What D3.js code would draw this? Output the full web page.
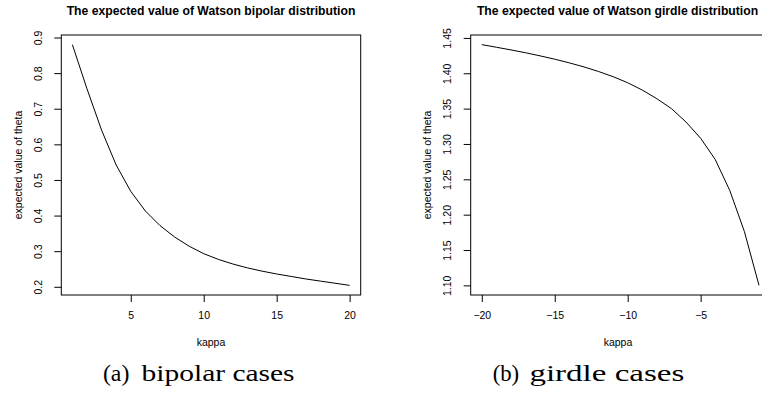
<!DOCTYPE html>
<html>
<head>
<meta charset="utf-8">
<script src="https://cdn.jsdelivr.net/npm/d3@7"></script>
<style>
  html, body { margin: 0; padding: 0; background: #fff; }
  svg { display: block; }
  .tick text { font-family: "Liberation Sans", Arial, Helvetica, sans-serif; font-size: 10.5px; fill: #000; }
  .tick line { stroke: #000; stroke-width: 1; }
</style>
</head>
<body>
<svg id="chart" width="762" height="409"></svg>
<script>
// Expected value of theta for the Watson distribution
const bipolarKappa = [1, 2, 3, 4, 5, 6, 7, 8, 9, 10, 11, 12, 13, 14, 15, 16, 17, 18, 19, 20];
const bipolarTheta = [0.880, 0.756, 0.640, 0.542, 0.468, 0.413, 0.372, 0.340, 0.314, 0.293,
                      0.277, 0.264, 0.253, 0.244, 0.236, 0.229, 0.222, 0.216, 0.210, 0.204];

const girdleKappa = [-20, -19, -18, -17, -16, -15, -14, -13, -12, -11, -10, -9, -8, -7, -6, -5, -4, -3, -2, -1];
const girdleTheta = [1.4405, 1.4368, 1.4330, 1.4290, 1.4246, 1.4199, 1.4147, 1.4090, 1.4025, 1.3952,
                     1.3866, 1.3762, 1.3640, 1.3500, 1.3310, 1.3080, 1.2780, 1.2340, 1.1760, 1.1000];

const bipolarXTicks = [5, 10, 15, 20];
const bipolarYTicks = [0.2, 0.3, 0.4, 0.5, 0.6, 0.7, 0.8, 0.9];
const girdleXTicks = [-20, -15, -10, -5];
const girdleYTicks = [1.10, 1.15, 1.20, 1.25, 1.30, 1.35, 1.40, 1.45];

const panels = [
  { title: "The expected value of Watson bipolar distribution", kappa: bipolarKappa, theta: bipolarTheta,
    xTicks: bipolarXTicks, yTicks: bipolarYTicks, yFmt: d3.format(".1f"),
    left: 61.3, titleX: 211, kappaX: 211, caption: ["(a)", "bipolar cases"], capX: [102.9, 141.6], capW: [26.5, 153] },
  { title: "The expected value of Watson girdle distribution", kappa: girdleKappa, theta: girdleTheta,
    xTicks: girdleXTicks, yTicks: girdleYTicks, yFmt: d3.format(".2f"),
    left: 470.7, titleX: 617.5, kappaX: 618, caption: ["(b)", "girdle cases"], capX: [492.7, 529.4], capW: [26.5, 155] }
];

const plotW = 299.4, plotTop = 35, plotBottom = 295;
const sans = "'Liberation Sans', Arial, Helvetica, sans-serif";
const svg = d3.select("#chart");

// R-style range: data extent widened by 4% on each side
function padded(values) {
  const [lo, hi] = d3.extent(values);
  const r = hi - lo;
  return [lo - 0.04 * r, hi + 0.04 * r];
}

panels.forEach(p => {
  const x = d3.scaleLinear().domain(padded(p.kappa)).range([p.left, p.left + plotW]);
  const y = d3.scaleLinear().domain(padded(p.theta)).range([plotBottom, plotTop]);

  // x axis
  const xa = svg.append("g").attr("transform", `translate(0,${plotBottom})`)
    .call(d3.axisBottom(x).tickValues(p.xTicks).tickSize(7)
      .tickFormat(d => d < 0 ? "\u2212" + Math.abs(d) : String(d)));
  xa.select(".domain").remove();
  xa.selectAll(".tick text").attr("dy", null).attr("y", 24);

  // y axis with labels rotated along the axis
  const ya = svg.append("g").attr("transform", `translate(${p.left},0)`)
    .call(d3.axisLeft(y).tickValues(p.yTicks).tickSize(7).tickFormat(p.yFmt));
  ya.select(".domain").remove();
  ya.selectAll(".tick text")
    .attr("transform", "rotate(-90)")
    .attr("x", 0).attr("dy", null).attr("y", -19.6)
    .attr("text-anchor", "middle");

  // curve
  const line = d3.line().x((d, i) => x(p.kappa[i])).y(d => y(d));
  svg.append("path").datum(p.theta)
    .attr("d", line).attr("fill", "none").attr("stroke", "#000").attr("stroke-width", 1);

  // frame
  svg.append("rect")
    .attr("x", x.range()[0]).attr("y", plotTop)
    .attr("width", x.range()[1] - x.range()[0]).attr("height", plotBottom - plotTop)
    .attr("fill", "none").attr("stroke", "#000").attr("stroke-width", 1);

  // title
  svg.append("text").attr("x", p.titleX).attr("y", 15)
    .attr("text-anchor", "middle").attr("font-family", sans)
    .attr("font-weight", "bold").attr("font-size", 12.2).text(p.title);

  // axis titles
  svg.append("text").attr("x", p.kappaX).attr("y", 346)
    .attr("text-anchor", "middle").attr("font-family", sans).attr("font-size", 10.5).text("kappa");
  svg.append("text")
    .attr("transform", `translate(${p.left - 39.8},${(plotTop + plotBottom) / 2}) rotate(-90)`)
    .attr("text-anchor", "middle").attr("font-family", sans).attr("font-size", 10.5)
    .text("expected value of theta");

  // sub-figure caption
  p.caption.forEach((c, i) => {
    svg.append("text").attr("x", p.capX[i]).attr("y", 381)
      .attr("font-family", "'Liberation Serif', 'Times New Roman', serif").attr("font-size", 24)
      .attr("textLength", p.capW[i]).attr("lengthAdjust", "spacingAndGlyphs")
      .text(c);
  });
});
</script>
</body>
</html>
